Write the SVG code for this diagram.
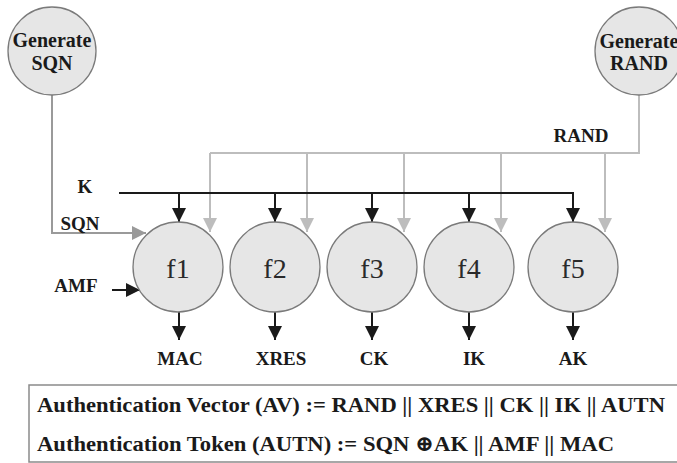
<svg xmlns="http://www.w3.org/2000/svg" width="677" height="463" viewBox="0 0 677 463">
  <style>
    .node { fill: #e6e6e6; stroke: #7a7a7a; stroke-width: 1.3; }
    .lbl { font-weight: bold; fill: #1a1a1a; }
    .fn { font-size: 28px; fill: #2a2a2a; text-anchor: middle; }
    .blk { fill: none; stroke: #1a1a1a; stroke-width: 2; }
    .gry { fill: none; stroke: #bdbdbd; stroke-width: 2; }
    .sqn { fill: none; stroke: #9a9a9a; stroke-width: 2; }
  </style>
  <defs>
    <marker id="ahBlack" markerUnits="userSpaceOnUse" markerWidth="16" markerHeight="16" viewBox="0 0 16 16" refX="14" refY="8" orient="auto">
      <path d="M0,1 L14,8 L0,15 Z" fill="#1a1a1a"/>
    </marker>
    <marker id="ahGray" markerUnits="userSpaceOnUse" markerWidth="16" markerHeight="16" viewBox="0 0 16 16" refX="14" refY="8" orient="auto">
      <path d="M0,1 L14,8 L0,15 Z" fill="#bdbdbd"/>
    </marker>
    <marker id="ahSqn" markerUnits="userSpaceOnUse" markerWidth="16" markerHeight="16" viewBox="0 0 16 16" refX="14" refY="8" orient="auto">
      <path d="M0,1 L14,8 L0,15 Z" fill="#9a9a9a"/>
    </marker>
  </defs>

  <rect width="677" height="463" fill="#ffffff"/>

  <!-- connectors -->
  <g id="connectors">
    <!-- SQN feed -->
    <path class="sqn" d="M52,95 V233 H146" marker-end="url(#ahSqn)"/>
    <!-- RAND bus -->
    <path class="gry" d="M639,95 V153 H210"/>
    <path class="gry" d="M210,153 V232" marker-end="url(#ahGray)"/>
    <path class="gry" d="M307,153 V232" marker-end="url(#ahGray)"/>
    <path class="gry" d="M404,153 V232" marker-end="url(#ahGray)"/>
    <path class="gry" d="M501,153 V232" marker-end="url(#ahGray)"/>
    <path class="gry" d="M605,153 V232" marker-end="url(#ahGray)"/>
    <!-- K bus -->
    <path class="blk" d="M119,193 H573 V222" marker-end="url(#ahBlack)"/>
    <path class="blk" d="M179,193 V222" marker-end="url(#ahBlack)"/>
    <path class="blk" d="M275,193 V222" marker-end="url(#ahBlack)"/>
    <path class="blk" d="M372,193 V222" marker-end="url(#ahBlack)"/>
    <path class="blk" d="M469,193 V222" marker-end="url(#ahBlack)"/>
    <!-- AMF -->
    <path class="blk" d="M112,290 H140" marker-end="url(#ahBlack)"/>
    <!-- outputs -->
    <path class="blk" d="M179,312 V340" marker-end="url(#ahBlack)"/>
    <path class="blk" d="M275,312 V340" marker-end="url(#ahBlack)"/>
    <path class="blk" d="M372,312 V340" marker-end="url(#ahBlack)"/>
    <path class="blk" d="M469,312 V340" marker-end="url(#ahBlack)"/>
    <path class="blk" d="M573,312 V340" marker-end="url(#ahBlack)"/>
  </g>

  <g font-family="'Liberation Serif', 'DejaVu Serif', serif">
  <!-- generators -->
  <g id="gen-sqn">
    <circle class="node" cx="52" cy="51" r="44"/>
    <text class="lbl" x="52" y="47" font-size="20" text-anchor="middle">Generate</text>
    <text class="lbl" x="52" y="70" font-size="20" text-anchor="middle">SQN</text>
  </g>
  <g id="gen-rand">
    <circle class="node" cx="639" cy="51" r="44"/>
    <text class="lbl" x="639" y="48" font-size="20" text-anchor="middle">Generate</text>
    <text class="lbl" x="639" y="70" font-size="20" text-anchor="middle">RAND</text>
  </g>

  <!-- functions -->
  <g id="f1"><circle class="node" cx="178" cy="267" r="45"/><text class="fn" x="178" y="278">f1</text></g>
  <g id="f2"><circle class="node" cx="275" cy="267" r="45"/><text class="fn" x="275" y="278">f2</text></g>
  <g id="f3"><circle class="node" cx="372" cy="267" r="45"/><text class="fn" x="372" y="278">f3</text></g>
  <g id="f4"><circle class="node" cx="469" cy="267" r="45"/><text class="fn" x="469" y="278">f4</text></g>
  <g id="f5"><circle class="node" cx="573" cy="267" r="45"/><text class="fn" x="573" y="278">f5</text></g>

  <!-- input labels -->
  <g id="labels-in" class="lbl" font-size="19">
    <text x="581" y="142" text-anchor="middle">RAND</text>
    <text x="85" y="193" text-anchor="middle">K</text>
    <text x="80" y="230" text-anchor="middle">SQN</text>
    <text x="76" y="292" text-anchor="middle">AMF</text>
  </g>

  <!-- output labels -->
  <g id="labels-out" class="lbl" font-size="19" text-anchor="middle">
    <text x="180" y="365">MAC</text>
    <text x="281" y="365">XRES</text>
    <text x="374" y="365">CK</text>
    <text x="474" y="365">IK</text>
    <text x="573" y="365">AK</text>
  </g>

  <!-- formula box -->
  <g id="formulas">
    <rect x="29" y="385" width="660" height="77" fill="#ffffff" stroke="#8a8a8a" stroke-width="1.5"/>
    <text class="lbl" x="37" y="412" font-size="22" textLength="628" lengthAdjust="spacingAndGlyphs">Authentication Vector (AV) := RAND || XRES || CK || IK || AUTN</text>
    <text class="lbl" x="37" y="451" font-size="22" textLength="577" lengthAdjust="spacingAndGlyphs">Authentication Token (AUTN) := SQN ⊕AK || AMF || MAC</text>
  </g>
  </g>
</svg>
